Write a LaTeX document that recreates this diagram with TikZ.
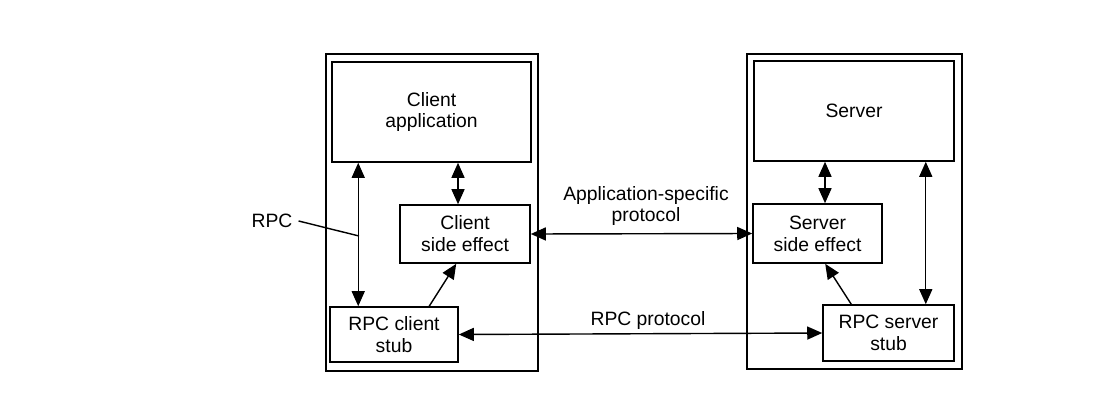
\documentclass[tikz,border=0pt]{standalone}
\usepackage{fontspec}
\setmainfont{Liberation Sans}
\usetikzlibrary{positioning, arrows.meta}

\begin{document}
\begin{tikzpicture}[x=0.02cm, y=-0.02cm,
    every node/.style={font=\fontsize{11}{12.5}\selectfont, align=center},
    frame/.style={draw, line width=0.9pt, inner sep=0pt},
    box/.style={draw, line width=0.9pt, inner sep=0pt},
    link/.style={line width=0.8pt, -{Triangle[length=0.3cm, width=0.26cm]}},
    dbl/.style={line width=0.8pt, {Triangle[length=0.3cm, width=0.26cm]}-{Triangle[length=0.3cm, width=0.26cm]}}]
    \useasboundingbox (0,0) rectangle (1114,402);

    % client and server frames
    \node[frame, minimum width=4.24cm, minimum height=6.34cm] (cframe) at (432,212.5) {};
    \node[frame, minimum width=4.30cm, minimum height=6.30cm] (sframe) at (854.5,211.5) {};

    \node[box, minimum width=3.98cm, minimum height=2.0cm] (capp) at (431.5,112) {Client\\application};
    \node[box, minimum width=2.60cm, minimum height=1.16cm] (cside) at (465,234) {Client\\side effect};
    \node[box, minimum width=2.56cm, minimum height=1.10cm] (cstub) at (394,334.5) {RPC client\\stub};

    \node[box, minimum width=4.00cm, minimum height=2.0cm] (srv) at (854,111) {Server};
    \node[box, minimum width=2.58cm, minimum height=1.18cm] (sside) at (817.5,233.5) {Server\\side effect};
    \node[box, minimum width=2.62cm, minimum height=1.12cm] (sstub) at (888.5,333) {RPC server\\stub};

    % calls inside each side
    \draw[dbl] ([xshift=0.54cm]capp.south west) coordinate (rpcl) -- (rpcl |- cstub.north);
    \draw[dbl] ([xshift=-0.14cm]cside.north) coordinate (cup) -- (cup |- capp.south);
    \draw[link] ([xshift=2.0cm]cstub.north west) -- ([xshift=1.14cm]cside.south west);

    \draw[dbl] ([xshift=0.15cm]sside.north) coordinate (sup) -- (sup |- srv.south);
    \draw[dbl] ([xshift=-0.58cm]srv.south east) coordinate (rpcr) -- (rpcr |- sstub.north);
    \draw[link] ([xshift=0.58cm]sstub.north west) -- ([xshift=1.46cm]sside.south west);

    % protocols between the two sides
    \draw[dbl] (cside.east) -- (sside.west);
    \draw[dbl] (cstub.east) -- (sstub.west);
    \node (appproto) at (646,206) {Application-specific\\protocol};
    \node (rpcproto) at (648,320) {RPC protocol};

    \node (rpc) at (272,221) {RPC};
    \coordinate (rpcm) at (359,236);
    \draw[line width=0.8pt] (rpc.east) -- (rpcm);
\end{tikzpicture}
\end{document}
